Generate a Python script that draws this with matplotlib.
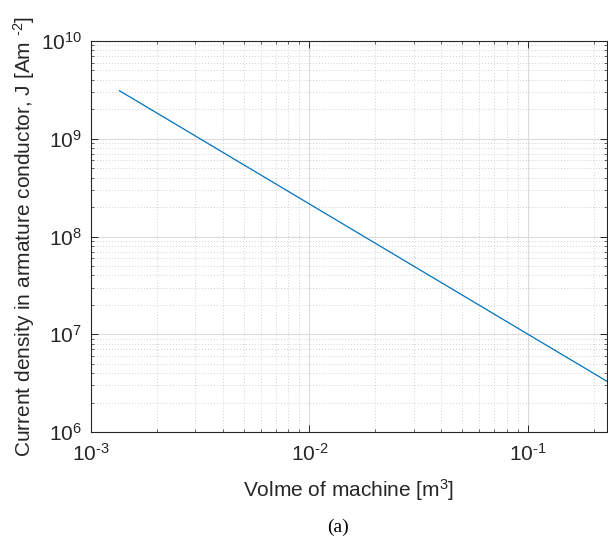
import matplotlib
matplotlib.use("Agg")
import matplotlib.pyplot as plt
from matplotlib.ticker import LogLocator, NullFormatter

# Data (straight line on log-log axes)
volume = [1.35e-3, 1.0e-2, 1.0e-1, 0.23]
current_density = [3.1e9, 2.15e8, 1.0e7, 3.3e6]

x_limits = (1e-3, 0.23)
y_limits = (1e6, 1e10)
x_ticks = [1e-3, 1e-2, 1e-1]
x_tick_labels = [r"$\mathregular{10^{\text{-}3}}$", r"$\mathregular{10^{\text{-}2}}$", r"$\mathregular{10^{\text{-}1}}$"]
y_ticks = [1e6, 1e7, 1e8, 1e9, 1e10]
y_tick_labels = [r"$\mathregular{10^{%d}}$" % k for k in (6, 7, 8, 9, 10)]

plt.rcParams['font.family'] = ['Liberation Sans', 'DejaVu Sans']
plt.rcParams['mathtext.fontset'] = 'custom'
plt.rcParams['mathtext.rm'] = 'Liberation Sans'

W, H = 608, 539
fig = plt.figure(figsize=(W / 100, H / 100), dpi=100)
ax = fig.add_axes([91 / W, (H - 432) / H, (607 - 91) / W, (432 - 41) / H])

axis_col = (0.15, 0.15, 0.15)
ax.plot(volume, current_density, color='#0072BD', lw=0.9)
ax.set_xscale('log')
ax.set_yscale('log')
ax.set_xlim(*x_limits)
ax.set_ylim(*y_limits)

ax.set_xticks(x_ticks)
ax.set_xticklabels(x_tick_labels)
ax.set_yticks(y_ticks)
ax.set_yticklabels(y_tick_labels)
ax.xaxis.set_minor_locator(LogLocator(base=10, subs=range(2, 10), numticks=20))
ax.yaxis.set_minor_locator(LogLocator(base=10, subs=range(2, 10), numticks=20))
ax.xaxis.set_minor_formatter(NullFormatter())
ax.yaxis.set_minor_formatter(NullFormatter())

ax.grid(True, which='major', color=(0.86, 0.86, 0.86), lw=0.8, ls='-')
ax.grid(True, which='minor', color=(0.76, 0.76, 0.76), lw=0.6, ls=(0, (1, 2.5)))
ax.set_axisbelow(True)

ax.tick_params(which='both', direction='in', top=True, right=True,
               colors=axis_col, labelcolor=axis_col, labelsize=15)
ax.tick_params(which='major', length=5, width=0.7)
ax.tick_params(which='minor', length=2.5, width=0.5)
for s in ax.spines.values():
    s.set_color(axis_col)
    s.set_linewidth(0.8)
ax.tick_params(axis='x', pad=8)
ax.tick_params(axis='y', pad=6.5)

ax.set_xlabel(r"Volme of machine [m$\mathregular{^{3}}$]", fontsize=15, color=axis_col, labelpad=9)
ax.set_ylabel(r"Current density in armature conductor, J [Am $\mathregular{^{\text{-}2}}$]",
              fontsize=15, color=axis_col, labelpad=3)

fig.text(338 / W, 1 - 527 / H, "(a)", family='Liberation Serif', fontsize=14,
         ha='center', va='center', color='black')

fig.savefig("out.png", dpi=100)
